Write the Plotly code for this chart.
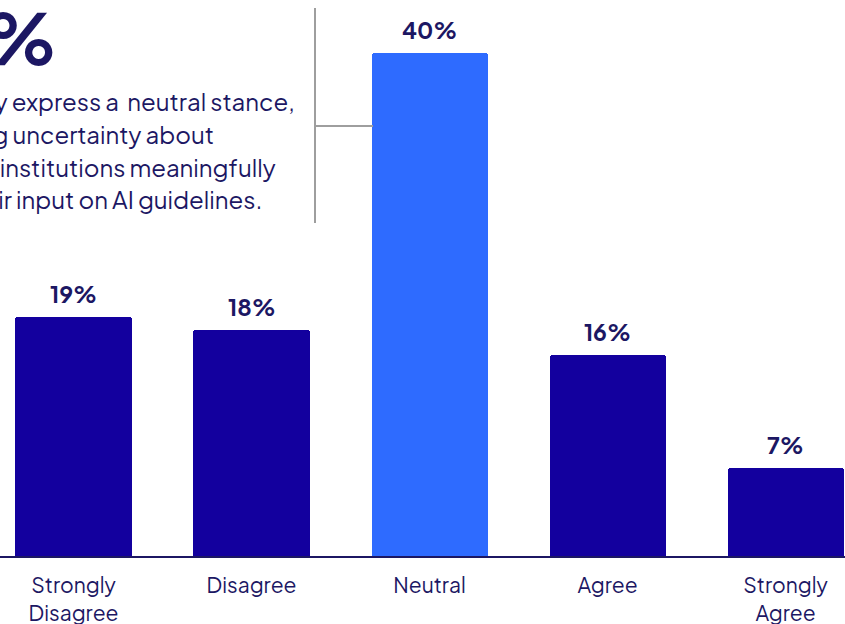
import plotly.graph_objects as go

categories = ["Strongly<br>Disagree", "Disagree", "Neutral", "Agree", "Strongly<br>Agree"]
values = [19, 18, 40, 16, 7]
labels = ["19%", "18%", "40%", "16%", "7%"]
colors = ["#13009E", "#13009E", "#2E6BFF", "#13009E", "#13009E"]

headline = "40%"
body_lines = [
    "Most faculty express a  neutral stance,",
    "reflecting uncertainty about",
    "whether institutions meaningfully",
    "consider their input on AI guidelines.",
]
body_right_px = [297, 216, 278, 264]
body_y_px = [101, 134, 167, 199]

W, H = 845, 624
PLOT_H = 556
FONT = "Plus Jakarta Sans, Inter, Lato, sans-serif"
NAVY = "#1C1763"

x_idx = list(range(len(categories)))

fig = go.Figure()
fig.add_trace(go.Bar(
    x=x_idx, y=values, marker=dict(color=colors, cornerradius=3, line=dict(width=0)),
    width=0.652, hoverinfo="skip",
))

for i, (v, lab) in enumerate(zip(values, labels)):
    fig.add_annotation(x=i, y=v, text=f"<b>{lab}</b>", showarrow=False,
                       xref="x", yref="y", yanchor="bottom", yshift=7,
                       font=dict(family=FONT, size=23, color=NAVY))

def py(px):
    return (PLOT_H - px) / PLOT_H

fig.add_annotation(x=60 / W, y=py(36), xref="paper", yref="paper", text=f"<b>{headline}</b>",
                   showarrow=False, xanchor="right", yanchor="middle",
                   font=dict(family=FONT, size=70, color=NAVY))

for line, rx, yy in zip(body_lines, body_right_px, body_y_px):
    fig.add_annotation(x=rx / W, y=py(yy), xref="paper", yref="paper", text=line,
                       showarrow=False, xanchor="right", yanchor="middle",
                       font=dict(family=FONT, size=24, color=NAVY))

fig.add_shape(type="line", xref="paper", yref="paper", x0=315 / W, x1=315 / W,
              y0=py(8), y1=py(223), line=dict(color="#9E9E9E", width=2))
fig.add_shape(type="line", xref="paper", yref="paper", x0=315 / W, x1=373 / W,
              y0=py(126), y1=py(126), line=dict(color="#9E9E9E", width=2))

fig.update_layout(
    width=W, height=H, margin=dict(l=0, r=0, t=0, b=H - PLOT_H),
    paper_bgcolor="white", plot_bgcolor="white", showlegend=False,
    bargap=0,
    xaxis=dict(range=[-0.413, 4.334], tickmode="array", tickvals=x_idx, ticktext=categories,
               showline=True, linecolor="#1C1763", linewidth=2, showgrid=False, zeroline=False,
               ticks="", ticklabelstandoff=10, automargin=False,
               tickfont=dict(family=FONT, size=21, color=NAVY), fixedrange=True),
    yaxis=dict(range=[0, 556 / 12.575], visible=False, showgrid=False, zeroline=False,
               fixedrange=True, automargin=False),
)

fig.write_html("out.html", config={"displayModeBar": False},
               post_script="document.body.style.margin='0';document.body.style.padding='0';")
